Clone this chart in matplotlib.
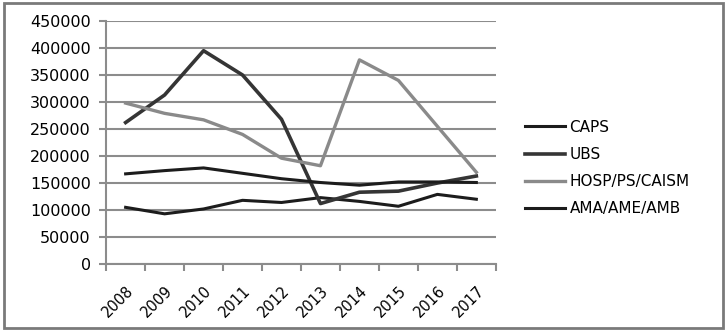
import numpy as np
import matplotlib.pyplot as plt
from matplotlib.patches import Rectangle

years = ['2008', '2009', '2010', '2011', '2012', '2013', '2014', '2015', '2016', '2017']
caps = [105000, 93000, 102000, 118000, 114000, 123000, 116000, 107000, 129000, 120000]
ubs = [262000, 313000, 395000, 350000, 268000, 112000, 133000, 135000, 150000, 163000]
hosp = [298000, 279000, 267000, 240000, 196000, 182000, 378000, 340000, 255000, 170000]
ama = [167000, 173000, 178000, 168000, 158000, 151000, 146000, 152000, 152000, 151000]

fig = plt.figure(figsize=(7.27, 3.33), dpi=100)
fig.patches.append(Rectangle((0.005, 0.015), 0.99, 0.975, transform=fig.transFigure,
                             fill=False, edgecolor='#7a7a7a', linewidth=2))
ax = fig.add_axes([0.146, 0.207, 0.536, 0.730])

x = np.arange(len(years))
ax.plot(x, caps, color='#1c1c1c', lw=2.2, label='CAPS')
ax.plot(x, ubs, color='#353535', lw=2.6, label='UBS')
ax.plot(x, hosp, color='#8a8a8a', lw=2.4, label='HOSP/PS/CAISM')
ax.plot(x, ama, color='#1c1c1c', lw=2.2, label='AMA/AME/AMB')

ax.set_xlim(-0.5, len(years) - 0.5)
ax.set_ylim(0, 450000)
ax.set_yticks(np.arange(0, 450001, 50000))
ax.yaxis.grid(True, color='#8c8c8c', lw=1.5)
ax.set_axisbelow(True)

ax.set_xticks(x)
ax.set_xticklabels(years, rotation=45, ha='right', rotation_mode='anchor')
ax.set_xticks(np.arange(-0.5, len(years)), minor=True)
ax.tick_params(axis='x', which='major', length=0, pad=14, labelsize=10.5)
ax.tick_params(axis='x', which='minor', length=5, width=1.5, color='#8c8c8c', direction='out')
ax.tick_params(axis='y', length=5, width=1.5, color='#8c8c8c', labelsize=11.5, pad=6)

for s in ['top', 'right']:
    ax.spines[s].set_visible(False)
for s in ['left', 'bottom']:
    ax.spines[s].set_color('#8c8c8c')
    ax.spines[s].set_linewidth(1.5)

ax.legend(loc='center left', bbox_to_anchor=(1.04, 0.395), frameon=False,
          fontsize=11, handlelength=2.6, handletextpad=0.3, labelspacing=0.8)

plt.savefig('out.png', dpi=100)
